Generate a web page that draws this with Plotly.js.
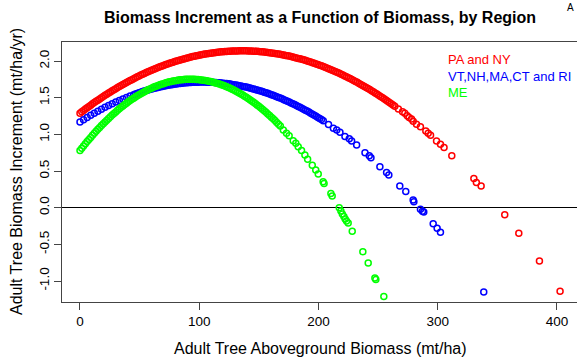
<!DOCTYPE html>
<html>
<head>
<meta charset="utf-8">
<script src="https://cdn.plot.ly/plotly-3.0.1.min.js"></script>
<style>
  html, body { margin: 0; padding: 0; background: #ffffff; }
  #chart { width: 577px; height: 358px; }
</style>
</head>
<body>
<div id="chart"></div>
<script>
// Adult tree aboveground biomass (mt/ha) and biomass increment (mt/ha/yr), by region

// PA and NY
const biomassPA = [0,3,6,9,12,15,18,21,24,27,30,33,36,39,42,45,48,51,54,57,60,63,66,69,72,75,78,81,84,87,90,93,96,99,
  102,105,108,111,114,117,120,123,126,129,132,135,138,141,144,147,150,153,156,159,162,165,168,171,174,177,180,183,186,189,
  192,195,198,201,204,207,210,213,216,219,222,225,228,231,234,237,240,243,246,249,252,255,258,261,264,267,
  1.5,4.5,7.5,10.5,13.5,16.5,19.5,22.5,25.5,28.5,31.5,34.5,37.5,40.5,43.5,46.5,49.5,52.5,55.5,58.5,
  61.5,64.5,67.5,70.5,73.5,76.5,79.5,82.5,85.5,88.5,91.5,94.5,97.5,100.5,103.5,106.5,109.5,112.5,115.5,118.5,
  121.5,124.5,127.5,130.5,133.5,136.5,139.5,142.5,145.5,148.5,151.5,154.5,157.5,160.5,163.5,166.5,169.5,172.5,175.5,178.5,
  181.5,184.5,187.5,190.5,193.5,196.5,199.5,202.5,205.5,208.5,211.5,214.5,217.5,220.5,223.5,226.5,229.5,232.5,235.5,238.5,
  241.5,244.5,247.5,250.5,253.5,256.5,259.5,262.5,
  270.5,272.4,274.4,276,278,279.4,282.2,285.5,290,292,294,299,302.3,305.3,311.8,330.3,332.4,336.4,356.2,368,385.3,402.6];
const incrementPA = [1.290,1.327,1.363,1.399,1.434,1.467,1.500,1.533,1.564,1.594,1.624,1.653,1.681,1.708,1.734,1.760,1.785,1.809,1.832,1.854,
  1.875,1.896,1.915,1.934,1.952,1.970,1.986,2.002,2.016,2.030,2.043,2.056,2.067,2.078,2.087,2.096,2.104,2.112,2.118,2.124,
  2.129,2.132,2.136,2.138,2.139,2.140,2.140,2.139,2.137,2.134,2.131,2.126,2.121,2.115,2.108,2.101,2.092,2.083,2.073,2.062,
  2.050,2.037,2.024,2.010,1.995,1.979,1.962,1.944,1.926,1.906,1.886,1.865,1.844,1.821,1.798,1.773,1.748,1.723,1.696,1.668,
  1.640,1.611,1.581,1.550,1.518,1.486,1.452,1.418,1.383,1.347,
  1.309,1.345,1.381,1.417,1.451,1.484,1.517,1.549,1.579,1.609,1.639,1.667,1.695,1.721,1.747,1.773,1.797,1.821,1.843,1.865,
  1.886,1.906,1.925,1.943,1.961,1.978,1.994,2.009,2.023,2.037,2.050,2.062,2.073,2.083,2.092,2.100,2.108,2.115,2.121,2.127,
  2.131,2.134,2.137,2.139,2.140,2.140,2.140,2.138,2.136,2.133,2.129,2.124,2.118,2.112,2.105,2.097,2.088,2.078,2.068,2.056,
  2.044,2.031,2.017,2.003,1.987,1.971,1.953,1.935,1.916,1.896,1.876,1.855,1.833,1.810,1.786,1.761,1.736,1.710,1.682,1.654,
  1.626,1.596,1.566,1.534,1.502,1.469,1.435,1.401,
  1.31,1.29,1.255,1.23,1.21,1.18,1.14,1.105,1.045,1.015,0.99,0.91,0.865,0.82,0.71,0.40,0.345,0.295,-0.095,-0.35,-0.727,-1.14];

// VT, NH, MA, CT and RI
const biomassNE = [0,3,6,9,12,15,18,21,24,27,30,33,36,39,42,45,48,51,54,57,60,63,66,69,72,75,78,81,84,87,90,93,96,99,
  102,105,108,111,114,117,120,123,126,129,132,135,138,141,144,147,150,153,156,159,162,165,168,171,174,177,180,183,186,189,
  192,195,198,201,204,
  46.5,49.5,52.5,55.5,58.5,61.5,64.5,67.5,70.5,73.5,76.5,79.5,82.5,85.5,88.5,91.5,94.5,97.5,100.5,103.5,
  106.5,109.5,112.5,115.5,118.5,121.5,124.5,127.5,130.5,133.5,136.5,139.5,142.5,145.5,148.5,151.5,154.5,157.5,160.5,163.5,
  166.5,169.5,172.5,175.5,178.5,181.5,184.5,187.5,190.5,193.5,196.5,199.5,202.5,
  208.4,212.5,215.3,218,222.2,225.8,227.8,232,239,242.6,244,251.5,257.1,259,268.2,273.2,279.4,280,285.5,287.2,288.3,
  296.2,299.5,302.3,338.6];
const incrementNE = [1.170,1.201,1.232,1.261,1.290,1.317,1.344,1.370,1.394,1.418,1.441,1.463,1.484,1.504,1.524,1.542,1.559,1.576,1.591,1.606,
  1.620,1.632,1.644,1.655,1.665,1.674,1.682,1.689,1.696,1.701,1.705,1.709,1.711,1.713,1.714,1.714,1.712,1.710,1.707,1.703,
  1.699,1.693,1.686,1.678,1.670,1.660,1.650,1.639,1.626,1.613,1.599,1.584,1.568,1.551,1.533,1.514,1.495,1.474,1.453,1.430,
  1.407,1.382,1.357,1.331,1.304,1.276,1.247,1.217,1.186,
  1.551,1.568,1.584,1.599,1.613,1.626,1.638,1.650,1.660,1.670,1.678,1.686,1.693,1.699,1.703,1.707,1.710,1.712,1.714,1.714,
  1.713,1.711,1.709,1.705,1.701,1.696,1.690,1.682,1.674,1.665,1.655,1.645,1.633,1.620,1.606,1.592,1.576,1.560,1.542,1.524,
  1.505,1.485,1.464,1.442,1.419,1.395,1.370,1.344,1.318,1.290,1.262,1.232,1.202,
  1.135,1.083,1.06,1.03,0.97,0.94,0.91,0.855,0.75,0.71,0.68,0.56,0.48,0.445,0.295,0.22,0.105,0.08,-0.02,-0.05,-0.06,
  -0.22,-0.28,-0.335,-1.15];

// ME
const biomassME = [0,3,6,9,12,15,18,21,24,27,30,33,36,39,42,45,48,51,54,57,60,63,66,69,72,75,78,81,84,87,90,93,96,99,
  102,105,108,111,114,117,120,123,126,129,132,135,138,141,144,147,150,153,156,159,162,165,168,
  1.5,4.5,7.5,10.5,13.5,16.5,19.5,22.5,25.5,28.5,31.5,34.5,37.5,40.5,43.5,46.5,49.5,52.5,55.5,58.5,
  61.5,64.5,67.5,70.5,73.5,76.5,79.5,82.5,85.5,88.5,91.5,94.5,97.5,100.5,103.5,106.5,109.5,112.5,115.5,118.5,
  121.5,124.5,127.5,130.5,133.5,136.5,139.5,142.5,145.5,148.5,151.5,154.5,157.5,160.5,163.5,166.5,
  170.5,173.2,175.4,178.8,181,183,185.8,188.6,190.9,194.8,197.7,199.8,203.9,204.7,210.4,211.5,
  217.4,218.8,220,221.3,222.4,223.5,224.9,228.3,237.2,241.7,247.3,248.1,254.8];
const incrementME = [0.780,0.842,0.902,0.959,1.015,1.069,1.121,1.170,1.218,1.264,1.307,1.349,1.388,1.426,1.461,1.494,1.526,1.555,1.582,1.608,
  1.631,1.652,1.671,1.688,1.704,1.717,1.728,1.737,1.744,1.749,1.752,1.752,1.751,1.748,1.743,1.736,1.726,1.715,1.702,1.686,
  1.669,1.649,1.628,1.605,1.579,1.551,1.522,1.490,1.457,1.421,1.383,1.343,1.302,1.258,1.212,1.164,1.114,
  0.811,0.872,0.931,0.987,1.042,1.095,1.146,1.194,1.241,1.286,1.328,1.369,1.407,1.444,1.478,1.510,1.541,1.569,1.595,1.620,
  1.642,1.662,1.680,1.696,1.711,1.723,1.733,1.741,1.747,1.751,1.752,1.752,1.750,1.746,1.740,1.731,1.721,1.709,1.694,1.678,
  1.659,1.639,1.617,1.592,1.565,1.537,1.506,1.474,1.439,1.402,1.363,1.323,1.280,1.235,1.188,1.139,
  1.06,1.015,0.98,0.915,0.88,0.83,0.78,0.72,0.66,0.58,0.515,0.46,0.355,0.33,0.195,0.16,
  0.0,-0.045,-0.085,-0.12,-0.155,-0.18,-0.21,-0.32,-0.6,-0.755,-0.96,-0.98,-1.21];

const regionNames = ['PA and NY', 'VT,NH,MA,CT and RI', 'ME'];
const regionColors = ['#ff0000', '#0000ff', '#00ff00'];

const xTicks = [0, 100, 200, 300, 400];
const yTicks = [-1.0, -0.5, 0.0, 0.5, 1.0, 1.5, 2.0];

const FONT = 'Liberation Sans, Arial, Helvetica, sans-serif';

const series = [
  [biomassPA, incrementPA],
  [biomassNE, incrementNE],
  [biomassME, incrementME]
];

const traces = series.map(([x, y], i) => ({
  type: 'scatter',
  mode: 'markers',
  x: x,
  y: y,
  name: regionNames[i],
  cliponaxis: true,
  marker: {
    symbol: 'circle-open',
    size: 6,
    color: regionColors[i],
    line: { color: regionColors[i], width: 1.5 }
  },
  hoverinfo: 'skip'
}));

// plot box spans x 62..577 px, y 42..302 px
const L = 62, T = 42, W = 515, H = 260;
const px = (p) => (p - L) / W;
const py = (p) => (T + H - p) / H;

const legendAnn = regionNames.map((name, i) => ({
  text: name,
  xref: 'paper', yref: 'paper',
  x: px(446), y: py(60 + 16 * i),
  xanchor: 'left', yanchor: 'middle',
  showarrow: false,
  font: { family: FONT, size: 13, color: regionColors[i] }
}));

const layout = {
  width: 577,
  height: 358,
  margin: { l: L, r: 0, t: T, b: 358 - T - H, pad: 0 },
  paper_bgcolor: '#ffffff',
  plot_bgcolor: '#ffffff',
  showlegend: false,
  title: {
    text: '<b>Biomass Increment as a Function of Biomass, by Region</b>',
    xref: 'container', yref: 'container',
    x: 320 / 577, y: 1 - 17.5 / 358,
    xanchor: 'center', yanchor: 'middle',
    font: { family: FONT, size: 16, color: '#000000' }
  },
  xaxis: {
    range: [-15.09, 416.8],
    tickmode: 'array',
    tickvals: xTicks,
    ticktext: xTicks.map(String),
    ticks: 'outside',
    ticklen: 7,
    tickwidth: 1,
    tickcolor: '#444444',
    showgrid: false,
    zeroline: false,
    showline: true,
    mirror: true,
    linecolor: '#444444',
    linewidth: 1,
    tickfont: { family: FONT, size: 13.5, color: '#000000' }
  },
  yaxis: {
    range: [-1.2865, 2.2606],
    tickmode: 'array',
    tickvals: yTicks,
    ticktext: yTicks.map(v => v.toFixed(1)),
    tickangle: -90,
    ticks: 'outside',
    ticklen: 7,
    tickwidth: 1,
    tickcolor: '#444444',
    showgrid: false,
    zeroline: true,
    zerolinecolor: '#000000',
    zerolinewidth: 1,
    showline: true,
    mirror: false,
    linecolor: '#444444',
    linewidth: 1,
    tickfont: { family: FONT, size: 13.5, color: '#000000' }
  },
  annotations: [
    {
      text: 'Adult Tree Aboveground Biomass (mt/ha)',
      xref: 'paper', yref: 'paper',
      x: px(320), y: py(348),
      xanchor: 'center', yanchor: 'middle',
      showarrow: false,
      font: { family: FONT, size: 16, color: '#000000' }
    },
    {
      text: 'Adult Tree Biomass Increment (mt/ha/yr)',
      xref: 'paper', yref: 'paper',
      x: px(16), y: py(172),
      xanchor: 'center', yanchor: 'middle',
      textangle: -90,
      showarrow: false,
      font: { family: FONT, size: 16, color: '#000000' }
    },
    {
      text: 'A',
      xref: 'paper', yref: 'paper',
      x: px(570), y: py(7),
      xanchor: 'center', yanchor: 'middle',
      showarrow: false,
      font: { family: FONT, size: 10, color: '#000000' }
    }
  ].concat(legendAnn)
};

Plotly.newPlot('chart', traces, layout, { displayModeBar: false, staticPlot: true });
</script>
</body>
</html>
